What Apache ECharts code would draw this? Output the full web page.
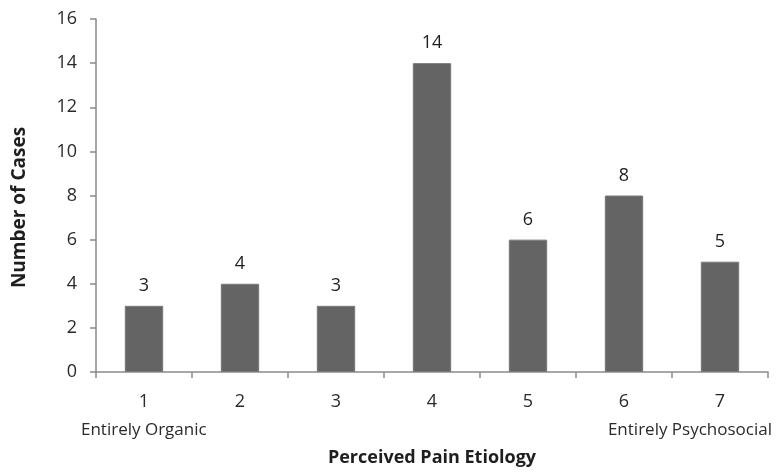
<!DOCTYPE html>
<html><head><meta charset="utf-8">
<script src="https://cdn.jsdelivr.net/npm/echarts@6/dist/echarts.min.js"></script>
<style>html,body{margin:0;padding:0;background:#fff}#c{width:781px;height:472px}</style>
</head><body><div id="c"></div>
<script>
const categories = ['1','2','3','4','5','6','7'];
const cases = [3, 4, 3, 14, 6, 8, 5];
const yTicks = {min: 0, max: 16, interval: 2};
const xTitle = 'Perceived Pain Etiology';
const yTitle = 'Number of Cases';
const leftNote = 'Entirely Organic';
const rightNote = 'Entirely Psychosocial';

const font = 'Open Sans';
const chart = echarts.init(document.getElementById('c'));
chart.setOption({
  animation: false,
  textStyle: {fontFamily: font},
  grid: {left: 96, right: 13, top: 19, bottom: 100, containLabel: false},
  xAxis: {
    type: 'category', data: categories,
    axisLine: {lineStyle: {color: '#8a8a8a', width: 1.5}},
    axisTick: {show: true, length: 6, alignWithLabel: false, lineStyle: {color: '#8a8a8a', width: 1.5}},
    axisLabel: {color: '#2a2a2a', fontSize: 18, margin: 21, fontFamily: font},
    name: xTitle, nameLocation: 'middle', nameGap: 77,
    nameTextStyle: {fontSize: 18, fontWeight: 'bold', color: '#1e1e1e', fontFamily: font}
  },
  yAxis: {
    type: 'value', min: yTicks.min, max: yTicks.max, interval: yTicks.interval,
    splitLine: {show: false},
    axisLine: {show: true, lineStyle: {color: '#8a8a8a', width: 1.5}},
    axisTick: {show: true, length: 6, lineStyle: {color: '#8a8a8a', width: 1.5}},
    axisLabel: {color: '#2a2a2a', fontSize: 18, margin: 19, fontFamily: font},
    name: yTitle, nameLocation: 'middle', nameGap: 67, nameRotate: 90,
    nameTextStyle: {fontSize: 19, fontWeight: 'bold', color: '#1e1e1e', fontFamily: font, padding: [0, 24, 0, 0]}
  },
  graphic: [
    {type: 'text', left: 81, top: 422, style: {text: leftNote, fontSize: 17, fill: '#2a2a2a', fontFamily: font}},
    {type: 'text', right: 9, top: 422, style: {text: rightNote, fontSize: 17, fill: '#2a2a2a', fontFamily: font}}
  ],
  series: [{
    type: 'bar', data: cases, barWidth: '40%',
    itemStyle: {color: '#646464', borderColor: '#7a7a7a', borderWidth: 1},
    label: {show: true, position: 'top', distance: 11, fontSize: 18, color: '#1e1e1e', fontFamily: font}
  }]
});
</script></body></html>
